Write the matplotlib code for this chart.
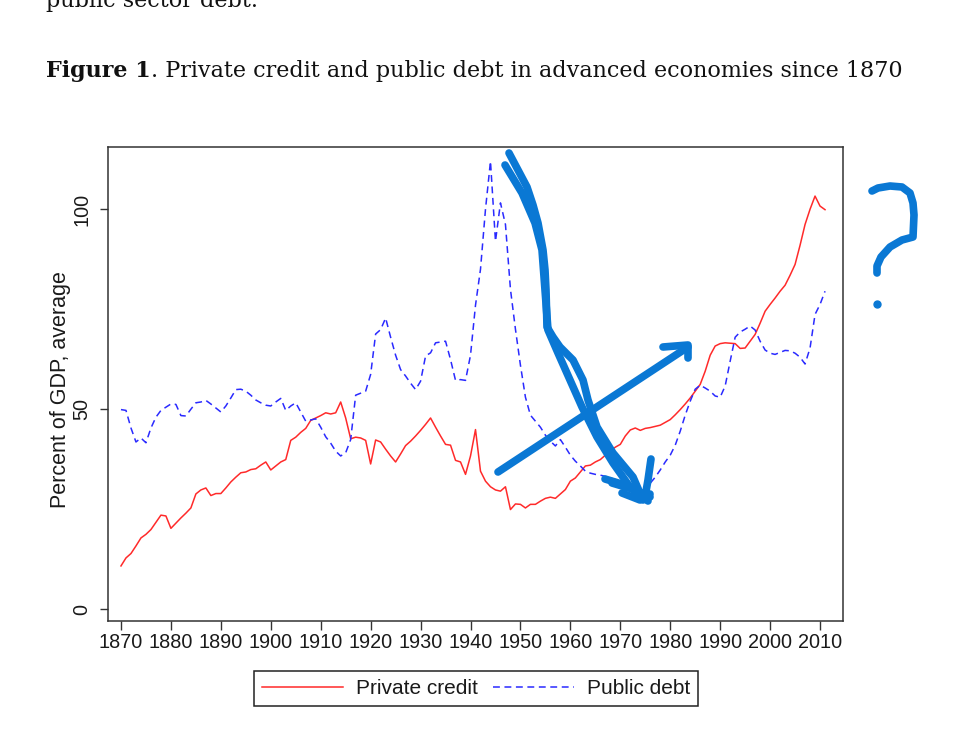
import matplotlib
matplotlib.use('Agg')
import matplotlib.pyplot as plt
import numpy as np
from matplotlib.lines import Line2D
from matplotlib.transforms import Affine2D

# Years and series (percent of GDP, average)
years = np.arange(1870, 2012)

private_credit = [
    10.8, 12.8, 13.9, 15.8, 17.8, 18.7, 19.9, 21.7, 23.5, 23.3,   # 1870s
    20.2, 21.5, 22.8, 24.0, 25.3, 28.8, 29.8, 30.3, 28.4, 28.9,   # 1880s
    28.9, 30.3, 31.8, 33.0, 34.1, 34.3, 34.9, 35.1, 36.0, 36.8,   # 1890s
    34.8, 35.8, 36.8, 37.4, 42.2, 43.0, 44.2, 45.2, 47.2, 47.8,   # 1900s
    48.4, 49.1, 48.8, 49.1, 51.8, 47.8, 42.6, 43.0, 42.8, 42.2,   # 1910s
    36.3, 42.3, 41.8, 40.0, 38.3, 36.8, 38.8, 40.9, 42.0, 43.3,   # 1920s
    44.7, 46.2, 47.8, 45.5, 43.3, 41.2, 41.0, 37.2, 36.8, 33.7,   # 1930s
    38.3, 44.9, 34.5, 32.0, 30.6, 29.8, 29.5, 30.6, 24.9, 26.3,   # 1940s
    26.2, 25.3, 26.2, 26.2, 27.0, 27.7, 28.0, 27.7, 28.8, 29.9,   # 1950s
    32.0, 32.8, 34.3, 35.8, 36.0, 36.8, 37.4, 38.5, 39.5, 40.5,   # 1960s
    41.2, 43.3, 44.8, 45.3, 44.7, 45.2, 45.4, 45.7, 46.0, 46.7,   # 1970s
    47.4, 48.6, 49.9, 51.3, 52.8, 54.5, 56.2, 59.5, 63.5, 65.8,   # 1980s
    66.4, 66.6, 66.5, 66.4, 65.2, 65.3, 67.0, 68.7, 71.5, 74.5,   # 1990s
    76.2, 77.8, 79.5, 81.0, 83.5, 86.2, 91.0, 96.2, 100.0, 103.3, # 2000s
    100.8, 99.9,                                                  # 2010-11
]

public_debt = [
    49.9, 49.7, 45.3, 41.8, 42.8, 41.6, 45.3, 48.0, 49.7, 50.5,
    51.3, 51.2, 48.4, 48.3, 50.0, 51.6, 51.8, 52.2, 51.3, 50.3,
    49.3, 50.8, 52.8, 54.9, 55.0, 54.5, 53.5, 52.3, 51.6, 51.0,
    50.8, 51.8, 52.7, 49.7, 50.8, 51.6, 49.3, 47.0, 47.3, 47.6,
    45.5, 43.1, 41.5, 39.5, 38.3, 39.1, 42.4, 53.5, 54.0, 54.5,
    58.7, 68.8, 69.9, 72.8, 68.0, 63.5, 59.9, 58.3, 56.5, 54.9,
    57.0, 63.3, 64.1, 66.6, 66.8, 67.0, 62.4, 57.2, 57.4, 57.2,
    63.5, 76.0, 85.0, 100.0, 112.0, 92.0, 101.6, 96.2, 80.0, 70.0,
    61.0, 53.0, 48.5, 47.0, 45.5, 43.5, 42.0, 40.8, 42.4, 40.5,
    38.5, 37.0, 35.8, 34.5, 34.0, 33.7, 33.5, 33.2, 32.8, 32.4,
    31.8, 31.2, 30.5, 29.9, 29.7, 29.5, 31.5, 33.0, 34.8, 36.8,
    38.5, 41.0, 44.5, 48.5, 52.0, 55.0, 56.0, 55.3, 54.5, 53.3,
    53.0, 55.8, 62.0, 68.0, 69.3, 70.0, 70.8, 69.8, 67.0, 64.8,
    64.0, 63.7, 64.2, 64.7, 64.6, 64.0, 63.0, 61.3, 65.3, 73.7,
    76.2, 79.5,
]

x_ticks = list(range(1870, 2011, 10))
y_ticks = [0, 50, 100]
series_labels = ['Private credit', 'Public debt']
caption_bold = 'Figure 1'
caption_rest = '. Private credit and public debt in advanced economies since 1870'
cut_line = 'public sector debt.'

# hand-drawn pen strokes on the screenshot (pixel positions on the page)
ink_strokes = [
    [(509, 153), (518, 170), (527, 187), (533, 205), (538, 223), (543, 250),
     (545, 270), (546, 290), (547, 327), (553, 337), (560, 347), (573, 360),
     (583, 380), (588, 400), (597, 427), (613, 453), (633, 477), (643, 500)],
    [(505, 165), (522, 193), (535, 223), (542, 250), (545, 290), (548, 330),
     (558, 353), (570, 380), (582, 407), (597, 437), (613, 463), (630, 487),
     (642, 497)],
    [(605, 479), (625, 485), (650, 497)],
    [(651, 459), (648, 480), (645, 497)],
    [(612, 483), (632, 489), (648, 501)],
    [(622, 493), (640, 500), (650, 494)],
    [(498, 472), (688, 347)],
    [(663, 347), (688, 345), (688, 358)],
    [(872, 191), (878, 188), (890, 186), (902, 187), (910, 193), (913, 203),
     (914, 215), (913, 237), (902, 240), (890, 247), (881, 257), (877, 266),
     (877, 273)],
]
ink_dot = (877, 304)
ink_color = '#0a78d4'

W, H = 967, 750
fig = plt.figure(figsize=(W / 100, H / 100), dpi=100)
fig.patch.set_facecolor('white')

ax = fig.add_axes([107.7 / W, 1 - 620.7 / H, (843 - 107.7) / W, (620.7 - 147.3) / H])

sans = ['Liberation Sans', 'DejaVu Sans']
txt = '#1a1a1a'

ax.plot(years, private_credit, color='#ff2a2a', lw=1.1, label=series_labels[0])
ax.plot(years, public_debt, color='#2a2aff', lw=1.1, linestyle=(0, (4.5, 3)),
        label=series_labels[1])

ax.set_xlim(1867.34, 2014.6)
ax.set_ylim(-2.9, 115.5)
ax.set_xticks(x_ticks)
ax.set_yticks(y_ticks)
ax.set_xticklabels([str(t) for t in x_ticks], fontsize=14.3, family=sans, color=txt)
ax.set_yticklabels([str(t) for t in y_ticks], fontsize=14.3, family=sans, color=txt,
                   rotation=90, va='center')
ax.tick_params(axis='x', length=6.5, width=1.0, pad=2, colors='#333333', labelcolor=txt)
ax.tick_params(axis='y', length=6, width=1.0, pad=5.5, colors='#333333', labelcolor=txt)
for sp in ax.spines.values():
    sp.set_color('#333333')
    sp.set_linewidth(1.1)

ax.set_ylabel('Percent of GDP, average', fontsize=15.5, family=sans, color=txt)
ax.yaxis.set_label_coords(-0.05, 0.489)

leg = ax.legend(loc='center', bbox_to_anchor=(476 / W, 1 - 688.5 / H),
                bbox_transform=fig.transFigure, ncol=2, frameon=True,
                fancybox=False, framealpha=1, edgecolor='#222222',
                prop={'family': sans, 'size': 15}, handlelength=3.9,
                handletextpad=0.6, columnspacing=0.75, borderpad=0.4,
                borderaxespad=0)
leg.get_frame().set_linewidth(1.1)
for t in leg.get_texts():
    t.set_color(txt)

# page text around the chart (first line is cut by the top of the screenshot)
fig.text(46 / W, 1 - 7 / H, cut_line, family='DejaVu Serif', fontsize=16,
         va='baseline', ha='left', color='#111111')
cap = fig.text(46 / W, 1 - 76.5 / H, caption_bold, family='DejaVu Serif',
               fontweight='bold', fontsize=16, va='baseline', ha='left',
               color='#111111')
fig.canvas.draw()
ax.annotate(caption_rest, xy=(1, 0), xycoords=cap, xytext=(0, 0),
            textcoords='offset points', va='bottom', ha='left',
            family='DejaVu Serif', fontsize=16, color='#111111',
            annotation_clip=False)

# pen annotations in page pixel coordinates
px = Affine2D().scale(1 / W, -1 / H).translate(0, 1) + fig.transFigure
for stroke in ink_strokes:
    xs, ys = zip(*stroke)
    fig.add_artist(Line2D(xs, ys, transform=px, color=ink_color, lw=5.5,
                          solid_capstyle='round', solid_joinstyle='round'))
fig.add_artist(Line2D([ink_dot[0]], [ink_dot[1]], transform=px, marker='o',
                      markersize=5, color=ink_color, lw=0))

fig.savefig('out.png', dpi=100, facecolor='white')
